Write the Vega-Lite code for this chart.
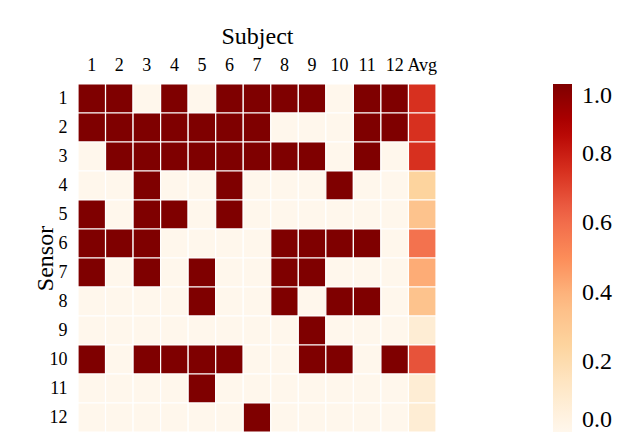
{
  "$schema": "https://vega.github.io/schema/vega-lite/v6.json",
  "width": 358,
  "height": 348,
  "autosize": {"type": "none"},
  "padding": {"left": 78, "top": 84, "right": 198, "bottom": 10},
  "background": "white",
  "config": {
    "view": {"stroke": null},
    "font": "Liberation Serif",
    "axis": {"labelFont": "Liberation Serif", "titleFont": "Liberation Serif"},
    "legend": {"labelFont": "Liberation Serif", "titleFont": "Liberation Serif"}
  },
  "data": {"values": [
    {"sensor":1,"subject":"1","value":1},{"sensor":1,"subject":"2","value":1},{"sensor":1,"subject":"3","value":0},{"sensor":1,"subject":"4","value":1},{"sensor":1,"subject":"5","value":0},{"sensor":1,"subject":"6","value":1},{"sensor":1,"subject":"7","value":1},{"sensor":1,"subject":"8","value":1},{"sensor":1,"subject":"9","value":1},{"sensor":1,"subject":"10","value":0},{"sensor":1,"subject":"11","value":1},{"sensor":1,"subject":"12","value":1},{"sensor":1,"subject":"Avg","value":0.75},
    {"sensor":2,"subject":"1","value":1},{"sensor":2,"subject":"2","value":1},{"sensor":2,"subject":"3","value":1},{"sensor":2,"subject":"4","value":1},{"sensor":2,"subject":"5","value":1},{"sensor":2,"subject":"6","value":1},{"sensor":2,"subject":"7","value":1},{"sensor":2,"subject":"8","value":0},{"sensor":2,"subject":"9","value":0},{"sensor":2,"subject":"10","value":0},{"sensor":2,"subject":"11","value":1},{"sensor":2,"subject":"12","value":1},{"sensor":2,"subject":"Avg","value":0.75},
    {"sensor":3,"subject":"1","value":0},{"sensor":3,"subject":"2","value":1},{"sensor":3,"subject":"3","value":1},{"sensor":3,"subject":"4","value":1},{"sensor":3,"subject":"5","value":1},{"sensor":3,"subject":"6","value":1},{"sensor":3,"subject":"7","value":1},{"sensor":3,"subject":"8","value":1},{"sensor":3,"subject":"9","value":1},{"sensor":3,"subject":"10","value":0},{"sensor":3,"subject":"11","value":1},{"sensor":3,"subject":"12","value":0},{"sensor":3,"subject":"Avg","value":0.75},
    {"sensor":4,"subject":"1","value":0},{"sensor":4,"subject":"2","value":0},{"sensor":4,"subject":"3","value":1},{"sensor":4,"subject":"4","value":0},{"sensor":4,"subject":"5","value":0},{"sensor":4,"subject":"6","value":1},{"sensor":4,"subject":"7","value":0},{"sensor":4,"subject":"8","value":0},{"sensor":4,"subject":"9","value":0},{"sensor":4,"subject":"10","value":1},{"sensor":4,"subject":"11","value":0},{"sensor":4,"subject":"12","value":0},{"sensor":4,"subject":"Avg","value":0.25},
    {"sensor":5,"subject":"1","value":1},{"sensor":5,"subject":"2","value":0},{"sensor":5,"subject":"3","value":1},{"sensor":5,"subject":"4","value":1},{"sensor":5,"subject":"5","value":0},{"sensor":5,"subject":"6","value":1},{"sensor":5,"subject":"7","value":0},{"sensor":5,"subject":"8","value":0},{"sensor":5,"subject":"9","value":0},{"sensor":5,"subject":"10","value":0},{"sensor":5,"subject":"11","value":0},{"sensor":5,"subject":"12","value":0},{"sensor":5,"subject":"Avg","value":0.333},
    {"sensor":6,"subject":"1","value":1},{"sensor":6,"subject":"2","value":1},{"sensor":6,"subject":"3","value":1},{"sensor":6,"subject":"4","value":0},{"sensor":6,"subject":"5","value":0},{"sensor":6,"subject":"6","value":0},{"sensor":6,"subject":"7","value":0},{"sensor":6,"subject":"8","value":1},{"sensor":6,"subject":"9","value":1},{"sensor":6,"subject":"10","value":1},{"sensor":6,"subject":"11","value":1},{"sensor":6,"subject":"12","value":0},{"sensor":6,"subject":"Avg","value":0.583},
    {"sensor":7,"subject":"1","value":1},{"sensor":7,"subject":"2","value":0},{"sensor":7,"subject":"3","value":1},{"sensor":7,"subject":"4","value":0},{"sensor":7,"subject":"5","value":1},{"sensor":7,"subject":"6","value":0},{"sensor":7,"subject":"7","value":0},{"sensor":7,"subject":"8","value":1},{"sensor":7,"subject":"9","value":1},{"sensor":7,"subject":"10","value":0},{"sensor":7,"subject":"11","value":0},{"sensor":7,"subject":"12","value":0},{"sensor":7,"subject":"Avg","value":0.417},
    {"sensor":8,"subject":"1","value":0},{"sensor":8,"subject":"2","value":0},{"sensor":8,"subject":"3","value":0},{"sensor":8,"subject":"4","value":0},{"sensor":8,"subject":"5","value":1},{"sensor":8,"subject":"6","value":0},{"sensor":8,"subject":"7","value":0},{"sensor":8,"subject":"8","value":1},{"sensor":8,"subject":"9","value":0},{"sensor":8,"subject":"10","value":1},{"sensor":8,"subject":"11","value":1},{"sensor":8,"subject":"12","value":0},{"sensor":8,"subject":"Avg","value":0.333},
    {"sensor":9,"subject":"1","value":0},{"sensor":9,"subject":"2","value":0},{"sensor":9,"subject":"3","value":0},{"sensor":9,"subject":"4","value":0},{"sensor":9,"subject":"5","value":0},{"sensor":9,"subject":"6","value":0},{"sensor":9,"subject":"7","value":0},{"sensor":9,"subject":"8","value":0},{"sensor":9,"subject":"9","value":1},{"sensor":9,"subject":"10","value":0},{"sensor":9,"subject":"11","value":0},{"sensor":9,"subject":"12","value":0},{"sensor":9,"subject":"Avg","value":0.083},
    {"sensor":10,"subject":"1","value":1},{"sensor":10,"subject":"2","value":0},{"sensor":10,"subject":"3","value":1},{"sensor":10,"subject":"4","value":1},{"sensor":10,"subject":"5","value":1},{"sensor":10,"subject":"6","value":1},{"sensor":10,"subject":"7","value":0},{"sensor":10,"subject":"8","value":0},{"sensor":10,"subject":"9","value":1},{"sensor":10,"subject":"10","value":1},{"sensor":10,"subject":"11","value":0},{"sensor":10,"subject":"12","value":1},{"sensor":10,"subject":"Avg","value":0.667},
    {"sensor":11,"subject":"1","value":0},{"sensor":11,"subject":"2","value":0},{"sensor":11,"subject":"3","value":0},{"sensor":11,"subject":"4","value":0},{"sensor":11,"subject":"5","value":1},{"sensor":11,"subject":"6","value":0},{"sensor":11,"subject":"7","value":0},{"sensor":11,"subject":"8","value":0},{"sensor":11,"subject":"9","value":0},{"sensor":11,"subject":"10","value":0},{"sensor":11,"subject":"11","value":0},{"sensor":11,"subject":"12","value":0},{"sensor":11,"subject":"Avg","value":0.083},
    {"sensor":12,"subject":"1","value":0},{"sensor":12,"subject":"2","value":0},{"sensor":12,"subject":"3","value":0},{"sensor":12,"subject":"4","value":0},{"sensor":12,"subject":"5","value":0},{"sensor":12,"subject":"6","value":0},{"sensor":12,"subject":"7","value":1},{"sensor":12,"subject":"8","value":0},{"sensor":12,"subject":"9","value":0},{"sensor":12,"subject":"10","value":0},{"sensor":12,"subject":"11","value":0},{"sensor":12,"subject":"12","value":0},{"sensor":12,"subject":"Avg","value":0.083}
  ]},
  "mark": {"type": "rect", "stroke": "white", "strokeWidth": 1.2},
  "encoding": {
    "x": {
      "field": "subject", "type": "ordinal",
      "sort": ["1","2","3","4","5","6","7","8","9","10","11","12","Avg"],
      "scale": {"paddingInner": 0, "paddingOuter": 0},
      "axis": {
        "orient": "top", "title": "Subject", "titleFontSize": 24, "titleFontWeight": "normal",
        "titleColor": "black", "titlePadding": 8,
        "labelFontSize": 18, "labelColor": "black", "labelAngle": 0,
        "ticks": false, "domain": false, "labelPadding": 10
      }
    },
    "y": {
      "field": "sensor", "type": "ordinal",
      "scale": {"paddingInner": 0, "paddingOuter": 0},
      "axis": {
        "title": "Sensor", "titleFontSize": 24, "titleFontWeight": "normal",
        "titleColor": "black", "titlePadding": -8,
        "labelFontSize": 18, "labelColor": "black",
        "ticks": false, "domain": false, "labelPadding": 11
      }
    },
    "color": {
      "field": "value", "type": "quantitative",
      "scale": {"domain": [0, 1], "range": ["#fff7ec","#fee8c8","#fdd49e","#fdbb84","#fc8d59","#ef6548","#d7301f","#b30000","#7f0000"], "interpolate": "rgb"},
      "legend": {
        "title": null, "orient": "right", "offset": 117,
        "gradientLength": 348, "gradientThickness": 19,
        "gradientStrokeWidth": 0,
        "values": [0, 0.2, 0.4, 0.6, 0.8, 1.0], "format": ".1f",
        "labelFontSize": 24, "labelColor": "black", "labelOffset": 10,
        "labelBaseline": "middle", "labelOverlap": false
      }
    }
  }
}
